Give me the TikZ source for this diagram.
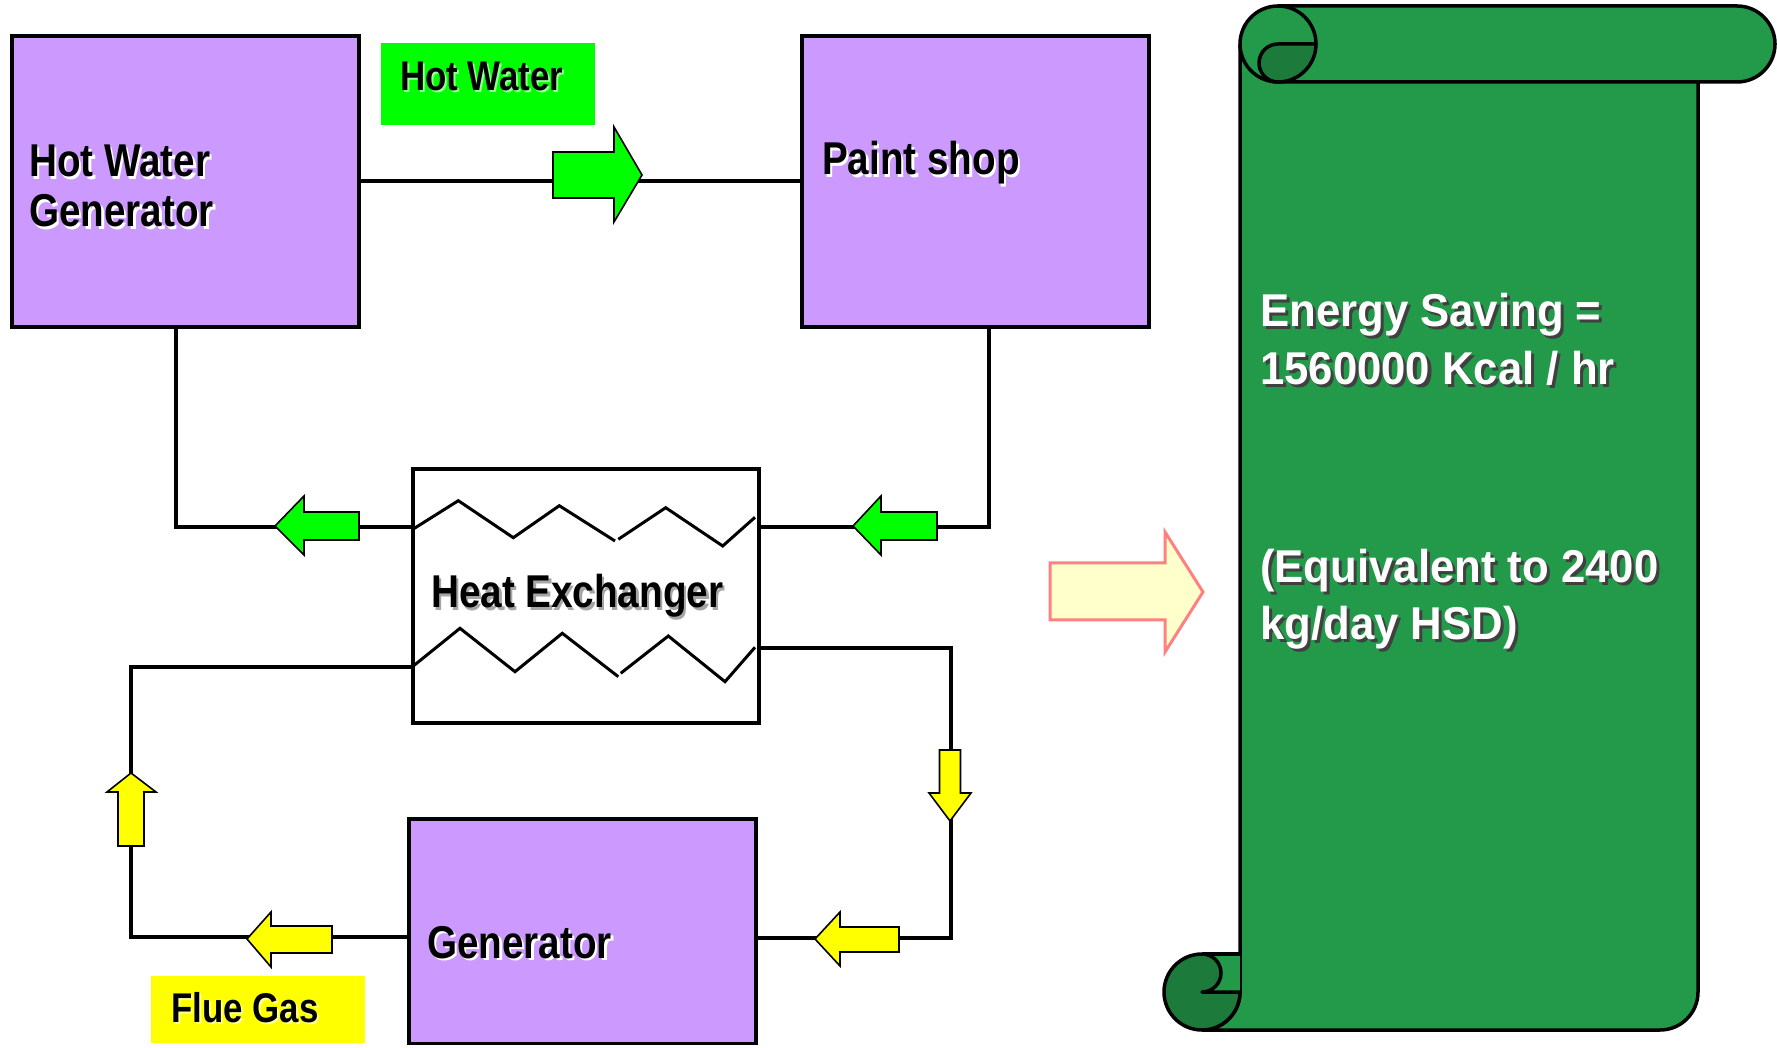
\documentclass[tikz,border=0pt]{standalone}
\usepackage{fontspec}
\newfontfamily\labelfont{Liberation Sans}[FakeStretch=0.84]
\newfontfamily\scrollfont{Liberation Sans}[FakeStretch=0.95]
\definecolor{boxpurple}{HTML}{CC99FF}
\definecolor{flowgreen}{HTML}{00FF00}
\definecolor{flowyellow}{HTML}{FFFF00}
\definecolor{scrollgreen}{HTML}{23994A}
\definecolor{scrolldark}{HTML}{1C7A3A}
\definecolor{pinkedge}{HTML}{FF8080}
\definecolor{paleyellow}{HTML}{FFFFCC}
\newcommand\shtxt[3]{\leavevmode\rlap{\kern#3\raisebox{-#3}{\textcolor{#1}{#2}}}#2}
\begin{document}
\begin{tikzpicture}[x=1pt,y=1pt,
  unitbox/.style={draw=black, line width=3.5pt, fill=boxpurple, inner sep=0, anchor=south west},
  tagbox/.style={inner sep=0, anchor=south west},
  pipe/.style={draw=black, line width=3.2pt},
  zig/.style={draw=black, line width=3pt, line join=miter},
  garrow/.style={draw=black, line width=1.6pt, fill=flowgreen, line join=miter},
  yarrow/.style={draw=black, line width=1.6pt, fill=flowyellow, line join=miter},
  bigarrow/.style={draw=pinkedge, line width=3pt, fill=paleyellow, line join=miter},
  scrollpart/.style={draw=black, line width=3.5pt, fill=scrollgreen, line join=round},
  scrollcurl/.style={draw=black, line width=3.5pt, fill=scrolldark, line join=round},
  scrollline/.style={draw=black, line width=3.5pt},
  lbl/.style={anchor=base west, inner sep=0, text=black, font=\labelfont\bfseries\fontsize{46}{51}\selectfont},
  smalllbl/.style={anchor=base west, inner sep=0, text=black, font=\labelfont\bfseries\fontsize{41.5}{46}\selectfont},
  scrolltxt/.style={anchor=base west, inner sep=0, text=white, font=\scrollfont\bfseries\fontsize{46}{52}\selectfont}
]
\useasboundingbox (0,0) rectangle (1777,1047);
\fill[white] (0,0) rectangle (1777,1047);

% ---------- boxes ----------
\node[unitbox, minimum width=347, minimum height=291] (hwg) at (10,718) {};
\node[unitbox, minimum width=347, minimum height=291] (paint) at (800,718) {};
\node[unitbox, minimum width=347, minimum height=224] (gen) at (407,2) {};
\node[tagbox, fill=flowgreen, minimum width=214, minimum height=82] (hwtag) at (381,922) {};
\node[tagbox, fill=flowyellow, minimum width=214, minimum height=67] (fluetag) at (151,4) {};

% ---------- connectors ----------
\coordinate (hwline) at (0,866);
\draw[pipe] (hwg.east |- hwline) -- (paint.west |- hwline);

\node[draw=black, line width=3.5pt, fill=white, inner sep=0, anchor=south west,
      minimum width=346, minimum height=254] (hx) at (411,322) {};

\coordinate (lc) at (176,520);
\draw[pipe] (hwg.south -| lc) -- (lc) -- (hx.west |- lc);
\coordinate (rc) at (989,520);
\draw[pipe] (paint.south -| rc) -- (rc) -- (hx.east |- rc);
\coordinate (brc1) at (951,399);
\coordinate (brc2) at (951,109);
\draw[pipe] (hx.east |- brc1) -- (brc1) -- (brc2) -- (gen.east |- brc2);
\coordinate (blc1) at (131,380);
\coordinate (blc2) at (131,110);
\draw[pipe] (hx.west |- blc1) -- (blc1) -- (blc2) -- (gen.west |- blc2);

% ---------- heat exchanger zigzags ----------
\draw[zig] (411.7,517) -- (458.3,546.3) -- (513.3,509.3) -- (559.3,541.3) -- (615,506);
\draw[zig] (618.3,507.7) -- (665.7,539.3) -- (722.7,501) -- (755,529.7);
\draw[zig] (413.3,381) -- (460,418.7) -- (515,375.3) -- (562.3,413.7) -- (618.3,370.3);
\draw[zig] (620.7,373.7) -- (668.3,411) -- (725,365.3) -- (755,399.7);

% ---------- flow arrows ----------
\draw[garrow] (553,849) -- (614,849) -- (614,825) -- (642,872) -- (614,920) -- (614,895) -- (553,895) -- cycle;
\draw[garrow] (359,507) -- (304,507) -- (304,492) -- (275,521) -- (304,551) -- (304,535) -- (359,535) -- cycle;
\draw[garrow] (937,507) -- (881,507) -- (881,492) -- (853,521) -- (881,551) -- (881,535) -- (937,535) -- cycle;
\draw[yarrow] (332,94) -- (271,94) -- (271,80) -- (247,108) -- (271,135) -- (271,121) -- (332,121) -- cycle;
\draw[yarrow] (899,95) -- (840,95) -- (840,81) -- (815,108) -- (840,135) -- (840,120) -- (899,120) -- cycle;
\draw[yarrow] (939.5,297) -- (939.5,254) -- (929,254) -- (950,226) -- (971,254) -- (960.5,254) -- (960.5,297) -- cycle;
\draw[yarrow] (118,201) -- (118,255) -- (107,255) -- (131,274) -- (156,255) -- (144,255) -- (144,201) -- cycle;

% ---------- big arrow ----------
\draw[bigarrow] (1050,427) -- (1165,427) -- (1165,395) -- (1203,455) -- (1165,515) -- (1165,484) -- (1050,484) -- cycle;

% ---------- scroll ----------
\draw[scrollpart] (1240,1003) -- (1240,55) arc[start angle=0, end angle=-90, radius=38]
   -- (1660,17) arc[start angle=-90, end angle=0, radius=38] -- (1698,1003) -- cycle;
\fill[scrollgreen] (1202,55) rectangle (1240,93);
\draw[scrollline] (1202,93) -- (1240,93);
\draw[scrollcurl] (1202,93) arc[start angle=90, end angle=360, radius=38] -- (1202,55)
   arc[start angle=-90, end angle=90, radius=19] -- cycle;
\draw[scrollpart] (1278,1041) -- (1737,1041) arc[start angle=90, end angle=-90, radius=38]
   -- (1278,965) arc[start angle=270, end angle=90, radius=38] -- cycle;
\draw[scrollline] (1278,1041) arc[start angle=90, end angle=0, radius=38];
\draw[scrollcurl] (1278,1003) -- (1316,1003) arc[start angle=0, end angle=-90, radius=38]
   arc[start angle=-90, end angle=-270, radius=19] -- cycle;

% ---------- texts ----------
\node[lbl] (hwgA) at (29,870) {\shtxt{white}{Hot Water}{2.5pt}};
\node[lbl] (hwgB) at (29,820) {\shtxt{white}{Generator}{2.5pt}};
\node[lbl] (paintT) at (822,872) {\shtxt{white}{Paint shop}{2.5pt}};
\node[lbl] (hxT) at (431,439) {\shtxt{black!35}{Heat Exchanger}{2.5pt}};
\node[lbl] (genT) at (427,89) {\shtxt{white}{Generator}{2.5pt}};
\node[smalllbl] (hwtagT) at (400,956) {\shtxt{white!60!flowgreen}{Hot Water}{2pt}};
\node[smalllbl] (flueT) at (171,25) {\shtxt{white!60!flowyellow}{Flue Gas}{2pt}};
\node[scrolltxt] (s1) at (1260,720) {\shtxt{black!75}{Energy Saving =}{3pt}};
\node[scrolltxt] (s2) at (1260,662) {\shtxt{black!75}{1560000 Kcal / hr}{3pt}};
\node[scrolltxt] (s3) at (1260,464) {\shtxt{black!75}{(Equivalent to 2400}{3pt}};
\node[scrolltxt] (s4) at (1260,407) {\shtxt{black!75}{kg/day HSD)}{3pt}};
\end{tikzpicture}
\end{document}
